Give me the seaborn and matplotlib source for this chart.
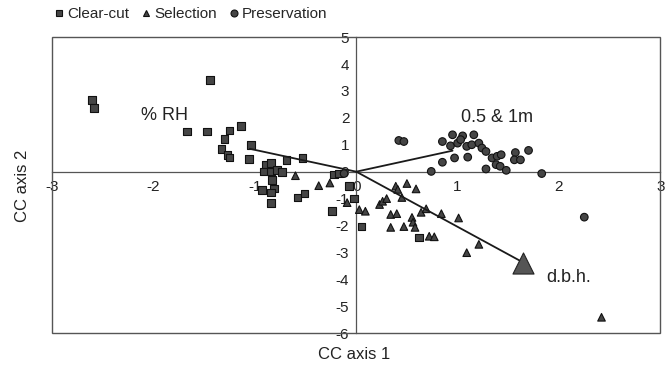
import numpy as np
import pandas as pd
import matplotlib
matplotlib.use('Agg')
import matplotlib.pyplot as plt
from matplotlib.patches import Rectangle
import seaborn as sns

# ============================================================
# DATA  (site scores)
# ============================================================

clearcut_x = [-2.61, -2.59, -1.44, -1.67, -1.47, -1.25, -1.14, -1.30, -1.33, -1.27,
              -1.25, -1.04, -1.06, -0.89, -0.84, -0.91, -0.84, -0.78, -0.73, -0.83,
              -0.69, -0.53, -0.93, -0.81, -0.84, -0.84, -0.58, -0.51, -0.22, -0.17,
              -0.24, -0.07, -0.02, 0.05, 0.62]
clearcut_y = [2.67, 2.37, 3.41, 1.49, 1.49, 1.53, 1.70, 1.21, 0.84, 0.63,
              0.52, 1.00, 0.47, 0.26, 0.33, 0.01, 0.01, 0.07, -0.02, -0.30,
              0.44, 0.51, -0.67, -0.63, -0.78, -1.16, -0.96, -0.81, -0.11, -0.07,
              -1.47, -0.54, -1.00, -2.04, -2.45]

selection_x = [-0.60, -0.37, -0.26, -0.09, 0.03, 0.09, 0.23, 0.26, 0.30, 0.39,
               0.41, 0.45, 0.50, 0.59, 0.34, 0.40, 0.34, 0.47, 0.55, 0.56,
               0.58, 0.64, 0.69, 0.72, 0.77, 0.84, 1.01, 1.09, 1.21, 2.42]
selection_y = [-0.15, -0.52, -0.42, -1.15, -1.41, -1.47, -1.22, -1.10, -1.00, -0.54,
               -0.66, -0.96, -0.44, -0.64, -1.59, -1.56, -2.07, -2.04, -1.70, -1.88,
               -2.07, -1.51, -1.38, -2.40, -2.42, -1.56, -1.72, -3.01, -2.70, -5.41]

preservation_x = [0.42, 0.47, 0.85, 0.95, 1.05, 1.16, 0.93, 1.00, 1.03, 1.09,
                  1.14, 1.21, 1.24, 1.28, 0.85, 0.97, 1.10, 0.74, 1.28, 1.34,
                  1.39, 1.43, 1.38, 1.42, 1.48, 1.57, 1.56, 1.62, 1.70, 1.83,
                  2.25, -0.12]
preservation_y = [1.16, 1.12, 1.12, 1.37, 1.33, 1.37, 0.96, 1.06, 1.19, 0.94,
                  1.00, 1.06, 0.88, 0.75, 0.35, 0.51, 0.54, 0.01, 0.10, 0.51,
                  0.57, 0.63, 0.26, 0.20, 0.05, 0.71, 0.44, 0.44, 0.79, -0.07,
                  -1.69, -0.07]

# environmental vectors (biplot arrows)
VECTOR_NAMES = ['% RH', '0.5 & 1m', 'd.b.h.']
vector_x     = [-1.05, 0.95, 1.65]
vector_y     = [0.85, 0.78, -3.38]
label_x      = [-1.89, 1.39, 2.10]
label_y      = [2.10, 2.00, -3.93]

GROUPS = ['Clear-cut', 'Selection', 'Preservation']

df = pd.concat([
    pd.DataFrame({'x': clearcut_x, 'y': clearcut_y, 'group': 'Clear-cut'}),
    pd.DataFrame({'x': selection_x, 'y': selection_y, 'group': 'Selection'}),
    pd.DataFrame({'x': preservation_x, 'y': preservation_y, 'group': 'Preservation'}),
], ignore_index=True)

# ============================================================
# FIGURE
# ============================================================

sns.set_style('white')
plt.rcParams['font.family'] = ['Liberation Sans', 'DejaVu Sans']
plt.rcParams['axes.unicode_minus'] = False

fig = plt.figure(figsize=(6.69, 3.71), dpi=100)
ax = fig.add_axes([0.078, 0.102, 0.909, 0.798])

sns.scatterplot(
    data=df, x='x', y='y',
    style='group', style_order=GROUPS,
    markers={'Clear-cut': 's', 'Selection': '^', 'Preservation': 'o'},
    color='#454545', edgecolor='#111111', linewidth=0.8,
    s=30, ax=ax, zorder=3
)

# vectors from origin
for vx, vy in zip(vector_x, vector_y):
    ax.plot([0, vx], [0, vy], color='#1a1a1a', lw=1.3, zorder=4)

# d.b.h. arrow head drawn as big triangle
ax.scatter(vector_x[2], vector_y[2], marker='^', s=230,
           color='#555555', edgecolor='#222222', linewidth=0.8, zorder=5)

for name, lx, ly in zip(VECTOR_NAMES, label_x, label_y):
    ax.text(lx, ly, name, fontsize=13, ha='center', va='center', color='#222222')

# ============================================================
# AXES  (crossing at origin, outer frame)
# ============================================================

ax.set_xlim(-3, 3)
ax.set_ylim(-6, 5)
ax.set_xticks(range(-3, 4))
ax.set_yticks(range(-6, 6))

for side in ['left', 'bottom']:
    ax.spines[side].set_position(('data', 0))
    ax.spines[side].set_color('#555555')
    ax.spines[side].set_linewidth(0.9)
for side in ['top', 'right']:
    ax.spines[side].set_visible(False)

ax.add_patch(Rectangle((0, 0), 1, 1, transform=ax.transAxes, fill=False,
                       edgecolor='#555555', lw=1.0, clip_on=False, zorder=1))

ax.tick_params(axis='both', direction='out', length=3, width=0.8,
               color='#555555', labelsize=11, labelcolor='#222222')
ax.tick_params(axis='x', pad=3)
ax.tick_params(axis='y', pad=2)

ax.set_xlabel('')
ax.set_ylabel('')
fig.text(0.53, 0.045, 'CC axis 1', fontsize=12, ha='center', va='center', color='#222222')
fig.text(0.033, 0.50, 'CC axis 2', fontsize=12, ha='center', va='center',
         rotation=90, color='#222222')

# ============================================================
# LEGEND
# ============================================================

handles, labels = ax.get_legend_handles_labels()
for h in handles:
    h.set_markersize(5)
ax.legend(handles, labels, loc='center left', bbox_to_anchor=(-0.012, 1.078),
          ncol=3, frameon=False, fontsize=11, handletextpad=0.05,
          columnspacing=0.6, handlelength=1.0, borderaxespad=0)

fig.savefig('out.png', dpi=100)
